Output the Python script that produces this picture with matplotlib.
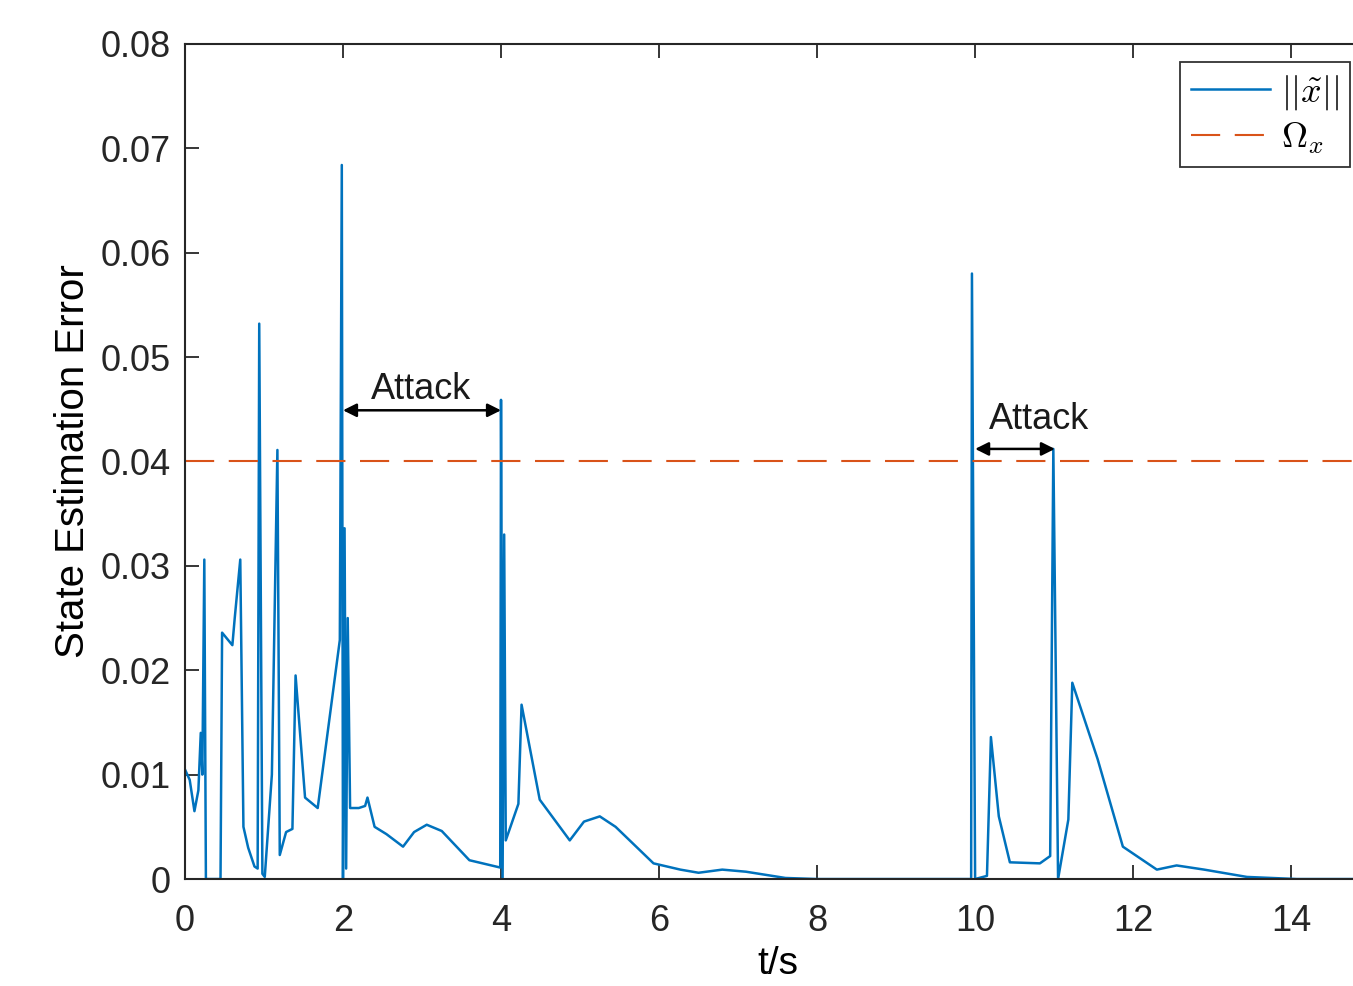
import matplotlib
matplotlib.use("Agg")
import matplotlib.pyplot as plt

plt.rcParams['font.family'] = ['Liberation Sans', 'DejaVu Sans']
plt.rcParams['mathtext.fontset'] = 'cm'

# state estimation error samples
t = [0.00, 0.06, 0.12, 0.17, 0.20, 0.22, 0.245, 0.265, 0.45, 0.47, 0.60, 0.63,
     0.70, 0.74, 0.80, 0.88, 0.92, 0.94, 0.98, 1.01, 1.10, 1.17, 1.20, 1.28,
     1.36, 1.40, 1.52, 1.68, 1.96, 1.985, 2.00, 2.02, 2.04, 2.06, 2.09, 2.20,
     2.28, 2.31, 2.40, 2.55, 2.76, 2.90, 3.06, 3.25, 3.45, 3.60, 3.99, 4.00,
     4.02, 4.04, 4.06, 4.22, 4.26, 4.49, 4.87, 5.05, 5.25, 5.45, 5.93, 6.27,
     6.50, 6.80, 7.10, 7.60, 8.00, 9.95, 9.96, 10.00, 10.15, 10.20, 10.30,
     10.44, 10.82, 10.95, 10.99, 11.05, 11.18, 11.23, 11.55, 11.87, 12.30,
     12.55, 12.90, 13.44, 14.07, 15.00]
err = [0.0105, 0.0095, 0.0065, 0.0085, 0.0140, 0.0100, 0.0306, 0.0, 0.0, 0.0236,
       0.0224, 0.0250, 0.0306, 0.0050, 0.0030, 0.0012, 0.0010, 0.0532, 0.0005,
       0.0002, 0.0100, 0.0411, 0.0023, 0.0045, 0.0048, 0.0195, 0.0078, 0.0068,
       0.0229, 0.0684, 0.0, 0.0336, 0.0010, 0.0250, 0.0068, 0.0068, 0.0070,
       0.0078, 0.0050, 0.0043, 0.0031, 0.0045, 0.0052, 0.0046, 0.0030, 0.0018,
       0.0011, 0.0459, 0.0, 0.0330, 0.0037, 0.0072, 0.0167, 0.0076, 0.0037,
       0.0055, 0.0060, 0.0050, 0.0015, 0.0009, 0.0006, 0.0009, 0.0007, 0.0001,
       0.0, 0.0, 0.0580, 0.0, 0.0003, 0.0136, 0.0060, 0.0016, 0.0015, 0.0022,
       0.0412, 0.0, 0.0057, 0.0188, 0.0115, 0.0031, 0.0009, 0.0013, 0.0009,
       0.0002, 0.0, 0.0]
threshold = 0.04

# attack windows: (start, end, arrow height, label x, label y)
attacks = [(2.0, 4.0, 0.0449, 2.99, 0.0469),
           (10.0, 11.01, 0.0412, 10.81, 0.0440)]

fig = plt.figure(figsize=(13.53, 9.86), dpi=100)
ax = fig.add_axes([0.1367, 0.1085, 0.876, 0.847])

ax.plot(t, err, color="#0072BD", linewidth=1.8, label=r"$||\tilde{x}||$")
ax.axhline(threshold, color="#D95319", linewidth=1.5, dashes=(14, 7), label=r"$\Omega_x$")

for x0, x1, ya, xt, yt in attacks:
    ax.annotate("", xy=(x0, ya), xytext=(x1, ya),
                arrowprops=dict(arrowstyle="<|-|>", color="black", lw=1.8,
                                mutation_scale=20, shrinkA=0, shrinkB=0))
    ax.text(xt, yt, "Attack", fontsize=26, ha="center", va="center", color="#1a1a1a")

ax.set_xlim(0, 15)
ax.set_ylim(0, 0.08)
ax.set_xticks(range(0, 15, 2))
ax.set_yticks([0, 0.01, 0.02, 0.03, 0.04, 0.05, 0.06, 0.07, 0.08])
ax.set_yticklabels(["0", "0.01", "0.02", "0.03", "0.04", "0.05", "0.06", "0.07", "0.08"])
ax.tick_params(direction="in", length=10, width=1.3, labelsize=26, top=True, right=True,
               colors="#262626")
ax.tick_params(axis="x", pad=18)
ax.tick_params(axis="y", pad=10)
for s in ax.spines.values():
    s.set_linewidth(1.5)
    s.set_color("#262626")

ax.set_xlabel("t/s", fontsize=28, labelpad=5)
ax.set_ylabel("State Estimation Error", fontsize=29, labelpad=6)

leg = ax.legend(loc="upper right", bbox_to_anchor=(1350 / 1353, 1 - 62 / 986),
                bbox_transform=fig.transFigure, fontsize=26, frameon=True,
                fancybox=False, edgecolor="black", handlelength=2.2,
                borderpad=0.3, labelspacing=0.25, handletextpad=0.3,
                borderaxespad=0)
leg.get_frame().set_linewidth(1.3)

fig.savefig("out.png", dpi=100)
